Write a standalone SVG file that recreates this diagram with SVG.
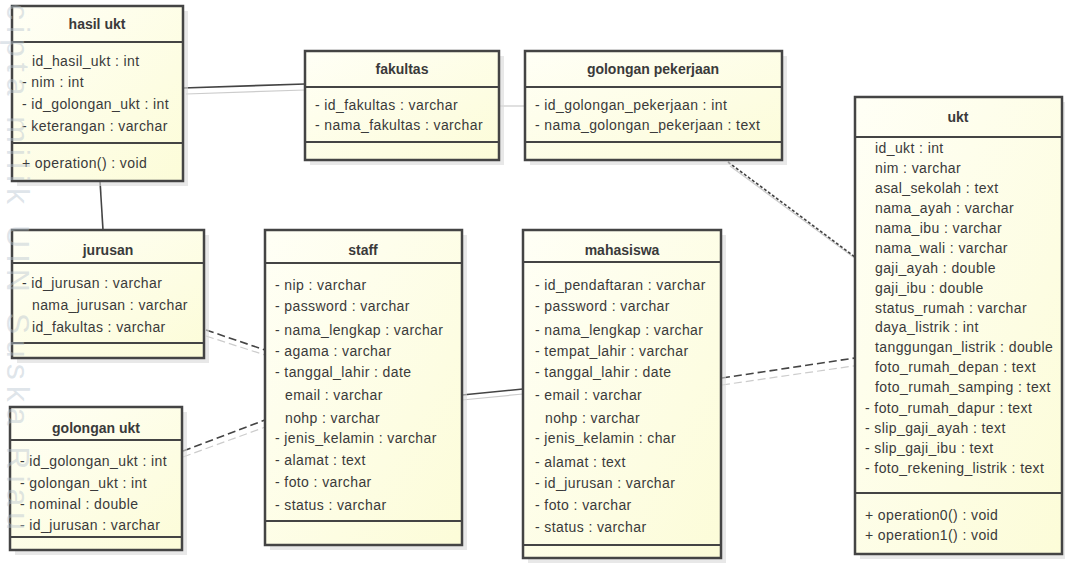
<svg xmlns="http://www.w3.org/2000/svg" width="1065" height="584" viewBox="0 0 1065 584">
<defs>
<linearGradient id="fill" x1="0" y1="0" x2="1" y2="1">
<stop offset="0" stop-color="#fffff6"/>
<stop offset="1" stop-color="#fcfcd8"/>
</linearGradient>
<style>
.box{fill:url(#fill);stroke:#444;stroke-width:2.5}
.sh{fill:#d8d8d8;opacity:0.6}
.ln{stroke:#444;stroke-width:2}
.t{font-family:"Liberation Sans",Arial,sans-serif;font-size:14px;letter-spacing:0.4px;fill:#3a3a3a}
.h{font-family:"Liberation Sans",Arial,sans-serif;font-size:14px;font-weight:bold;fill:#3a3a3a;text-anchor:middle}
.c{fill:none;stroke:#444;stroke-width:1.6}
.cs{fill:none;stroke:#ccc;stroke-width:1.2}
.d1{stroke-dasharray:8 4}
.d2{stroke-dasharray:3 2}
.wm{font-family:"Liberation Sans",Arial,sans-serif;font-size:32px;fill:#b8c4cf;fill-opacity:0.45}
</style>
</defs>
<rect width="1065" height="584" fill="#fff"/>

<g id="connectors">
<path class="cs" d="M186 94 L305 90"/>
<path class="c" d="M183 88 L305 84"/>
<path class="cs" d="M499 106 L525 106"/>
<path class="c" d="M100 181 L103 230"/>
<path class="cs" d="M730 166 L860 262"/>
<path class="c d2" d="M728 162 L855 257"/>
<path class="cs d1" d="M722 385 L860 365"/>
<path class="c d1" d="M722 378 L855 358"/>
<path class="cs d1" d="M206 336 L268 356"/>
<path class="c d1" d="M206 330 L265 350"/>
<path class="cs d1" d="M183 457 L268 426"/>
<path class="c d1" d="M183 451 L265 420"/>
<path class="cs" d="M462 400 L523 394"/>
<path class="c" d="M462 395 L523 389"/>
</g>

<g id="hasil_ukt">
<rect class="sh" x="17" y="11" width="171" height="175"/>
<rect class="box" x="12" y="6" width="171" height="175"/>
<line class="ln" x1="12" y1="42" x2="183" y2="42"/>
<line class="ln" x1="12" y1="143" x2="183" y2="143"/>
<text class="h" x="97" y="29">hasil ukt</text>
<text class="t" x="32" y="66">id_hasil_ukt : int</text>
<text class="t" x="22" y="87">- nim : int</text>
<text class="t" x="22" y="109">- id_golongan_ukt : int</text>
<text class="t" x="22" y="131">- keterangan : varchar</text>
<text class="t" x="22" y="168">+ operation() : void</text>
</g>

<g id="fakultas">
<rect class="sh" x="310" y="56" width="194" height="109"/>
<rect class="box" x="305" y="51" width="194" height="109"/>
<line class="ln" x1="305" y1="87" x2="499" y2="87"/>
<line class="ln" x1="305" y1="142" x2="499" y2="142"/>
<text class="h" x="402" y="74">fakultas</text>
<text class="t" x="315" y="110">- id_fakultas : varchar</text>
<text class="t" x="315" y="130">- nama_fakultas : varchar</text>
</g>

<g id="golongan_pekerjaan">
<rect class="sh" x="530" y="56" width="257" height="109"/>
<rect class="box" x="525" y="51" width="257" height="109"/>
<line class="ln" x1="525" y1="87" x2="782" y2="87"/>
<line class="ln" x1="525" y1="142" x2="782" y2="142"/>
<text class="h" x="653" y="74">golongan pekerjaan</text>
<text class="t" x="535" y="110">- id_golongan_pekerjaan : int</text>
<text class="t" x="535" y="130">- nama_golongan_pekerjaan : text</text>
</g>

<g id="ukt">
<rect class="sh" x="860" y="102" width="207" height="457"/>
<rect class="box" x="855" y="97" width="207" height="457"/>
<line class="ln" x1="855" y1="137" x2="1062" y2="137"/>
<line class="ln" x1="855" y1="493" x2="1062" y2="493"/>
<text class="h" x="958" y="122">ukt</text>
<text class="t" x="875" y="153">id_ukt : int</text>
<text class="t" x="875" y="173">nim : varchar</text>
<text class="t" x="875" y="193">asal_sekolah : text</text>
<text class="t" x="875" y="213">nama_ayah : varchar</text>
<text class="t" x="875" y="233">nama_ibu : varchar</text>
<text class="t" x="875" y="253">nama_wali : varchar</text>
<text class="t" x="875" y="273">gaji_ayah : double</text>
<text class="t" x="875" y="293">gaji_ibu : double</text>
<text class="t" x="875" y="313">status_rumah : varchar</text>
<text class="t" x="875" y="332">daya_listrik : int</text>
<text class="t" x="875" y="352">tanggungan_listrik : double</text>
<text class="t" x="875" y="372">foto_rumah_depan : text</text>
<text class="t" x="875" y="392">foto_rumah_samping : text</text>
<text class="t" x="865" y="413">- foto_rumah_dapur : text</text>
<text class="t" x="865" y="433">- slip_gaji_ayah : text</text>
<text class="t" x="865" y="453">- slip_gaji_ibu : text</text>
<text class="t" x="865" y="473">- foto_rekening_listrik : text</text>
<text class="t" x="865" y="520">+ operation0() : void</text>
<text class="t" x="865" y="540">+ operation1() : void</text>
</g>

<g id="jurusan">
<rect class="sh" x="17" y="235" width="192" height="128"/>
<rect class="box" x="12" y="230" width="192" height="128"/>
<line class="ln" x1="12" y1="263" x2="204" y2="263"/>
<line class="ln" x1="12" y1="343" x2="204" y2="343"/>
<text class="h" x="108" y="255">jurusan</text>
<text class="t" x="22" y="288">- id_jurusan : varchar</text>
<text class="t" x="32" y="310">nama_jurusan : varchar</text>
<text class="t" x="32" y="332">id_fakultas : varchar</text>
</g>

<g id="golongan_ukt">
<rect class="sh" x="15" y="412" width="172" height="143"/>
<rect class="box" x="10" y="407" width="172" height="143"/>
<line class="ln" x1="10" y1="440" x2="182" y2="440"/>
<line class="ln" x1="10" y1="537" x2="182" y2="537"/>
<text class="h" x="96" y="433">golongan ukt</text>
<text class="t" x="20" y="466">- id_golongan_ukt : int</text>
<text class="t" x="20" y="488">- golongan_ukt : int</text>
<text class="t" x="20" y="509">- nominal : double</text>
<text class="t" x="20" y="530">- id_jurusan : varchar</text>
</g>

<g id="staff">
<rect class="sh" x="270" y="235" width="197" height="315"/>
<rect class="box" x="265" y="230" width="197" height="315"/>
<line class="ln" x1="265" y1="263" x2="462" y2="263"/>
<line class="ln" x1="265" y1="521" x2="462" y2="521"/>
<text class="h" x="363" y="255">staff</text>
<text class="t" x="275" y="290">- nip : varchar</text>
<text class="t" x="275" y="311">- password : varchar</text>
<text class="t" x="275" y="335">- nama_lengkap : varchar</text>
<text class="t" x="275" y="356">- agama : varchar</text>
<text class="t" x="275" y="377">- tanggal_lahir : date</text>
<text class="t" x="285" y="400">email : varchar</text>
<text class="t" x="285" y="423">nohp : varchar</text>
<text class="t" x="275" y="443">- jenis_kelamin : varchar</text>
<text class="t" x="275" y="465">- alamat : text</text>
<text class="t" x="275" y="487">- foto : varchar</text>
<text class="t" x="275" y="510">- status : varchar</text>
</g>

<g id="mahasiswa">
<rect class="sh" x="528" y="235" width="198" height="328"/>
<rect class="box" x="523" y="230" width="198" height="328"/>
<line class="ln" x1="523" y1="262" x2="721" y2="262"/>
<line class="ln" x1="523" y1="545" x2="721" y2="545"/>
<text class="h" x="622" y="255">mahasiswa</text>
<text class="t" x="535" y="290">- id_pendaftaran : varchar</text>
<text class="t" x="535" y="311">- password : varchar</text>
<text class="t" x="535" y="335">- nama_lengkap : varchar</text>
<text class="t" x="535" y="356">- tempat_lahir : varchar</text>
<text class="t" x="535" y="377">- tanggal_lahir : date</text>
<text class="t" x="535" y="400">- email : varchar</text>
<text class="t" x="545" y="423">nohp : varchar</text>
<text class="t" x="535" y="443">- jenis_kelamin : char</text>
<text class="t" x="535" y="467">- alamat : text</text>
<text class="t" x="535" y="488">- id_jurusan : varchar</text>
<text class="t" x="535" y="510">- foto : varchar</text>
<text class="t" x="535" y="532">- status : varchar</text>
</g>

<text class="wm" transform="translate(7,4) rotate(90)" textLength="526" lengthAdjust="spacing">cipta milik UIN Suska Riau</text>
</svg>
